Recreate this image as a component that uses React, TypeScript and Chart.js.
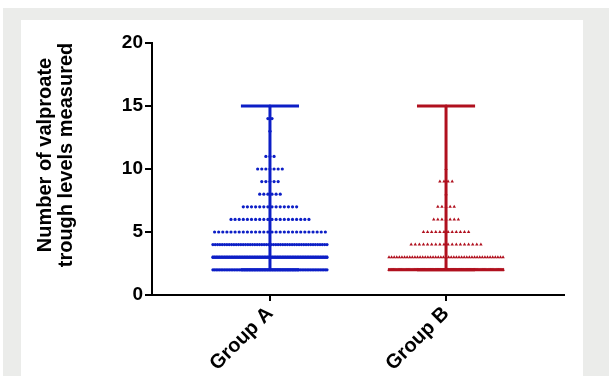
import React, { useEffect, useRef } from 'react';
import { Chart, registerables } from 'chart.js';

Chart.register(...registerables);

const categories = ['Group A', 'Group B'];
const levels = [2, 3, 4, 5, 6, 7, 8, 9, 10, 11, 12, 13, 14, 15];
const groupACounts = [70, 70, 50, 28, 20, 14, 6, 5, 7, 3, 0, 1, 2, 1];
const groupBCounts = [100, 45, 18, 12, 7, 5, 1, 4, 1, 0, 0, 0, 0, 1];
const yTicks = [0, 5, 10, 15, 20];
const yTitleLines = ['Number of valproate', 'trough levels measured'];
const colors = ['#0c1ec6', '#b0101e'];
const pointStyles = ['circle', 'triangle'];

const FONT = '"Liberation Sans", Arial, Helvetica, sans-serif';

function stats(counts: number[]) {
  const vals: number[] = [];
  levels.forEach((l, i) => {
    for (let k = 0; k < counts[i]; k++) vals.push(l);
  });
  vals.sort((a, b) => a - b);
  const n = vals.length;
  const med = n % 2 ? vals[(n - 1) / 2] : (vals[n / 2 - 1] + vals[n / 2]) / 2;
  return { min: vals[0], max: vals[n - 1], med };
}

function dotPoints(counts: number[], center: number) {
  const spacing = 0.0233;
  const maxW = 0.648;
  const pts: { x: number; y: number }[] = [];
  levels.forEach((l, i) => {
    const n = counts[i];
    if (n <= 0) return;
    const s = n > 1 ? Math.min(spacing, maxW / (n - 1)) : 0;
    for (let k = 0; k < n; k++) {
      pts.push({ x: center + (k - (n - 1) / 2) * s, y: l });
    }
  });
  return pts;
}

const yTitlePlugin = {
  id: 'yTitle',
  afterDraw(chart: any) {
    const { ctx } = chart;
    ctx.save();
    ctx.font = `bold 20px ${FONT}`;
    ctx.fillStyle = '#000';
    ctx.textAlign = 'center';
    ctx.textBaseline = 'middle';
    yTitleLines.forEach((t, i) => {
      ctx.save();
      ctx.translate(45 + i * 21, 155);
      ctx.rotate(-Math.PI / 2);
      ctx.fillText(t, 0, 0);
      ctx.restore();
    });
    ctx.restore();
  },
};

export default function App() {
  const ref = useRef<HTMLCanvasElement | null>(null);

  useEffect(() => {
    if (!ref.current) return;
    const groups = [groupACounts, groupBCounts];
    const datasets: any[] = [];
    const medHalf = 0.33;
    const capHalf = 0.165;
    groups.forEach((counts, g) => {
      const st = stats(counts);
      const line = (data: { x: number; y: number }[]) => ({
        type: 'scatter',
        data,
        showLine: true,
        borderColor: colors[g],
        borderWidth: 3,
        pointRadius: 0,
        order: 0,
      });
      datasets.push(line([{ x: g, y: st.min }, { x: g, y: st.max }]));
      datasets.push(line([{ x: g - capHalf, y: st.max }, { x: g + capHalf, y: st.max }]));
      datasets.push(line([{ x: g - capHalf, y: st.min }, { x: g + capHalf, y: st.min }]));
      datasets.push(line([{ x: g - medHalf, y: st.med }, { x: g + medHalf, y: st.med }]));
      datasets.push({
        type: 'scatter',
        data: dotPoints(counts, g),
        pointStyle: pointStyles[g],
        pointRadius: g === 0 ? 1.6 : 2,
        backgroundColor: colors[g],
        borderColor: colors[g],
        borderWidth: 0,
        order: 1,
      });
    });

    const chart = new Chart(ref.current, {
      type: 'scatter',
      data: { datasets },
      plugins: [yTitlePlugin],
      options: {
        animation: false,
        responsive: false,
        events: [],
        layout: { padding: { top: 43, right: 45, left: 0, bottom: 0 } },
        plugins: { legend: { display: false }, tooltip: { enabled: false } },
        scales: {
          x: {
            type: 'linear',
            min: -0.67,
            max: 1.67,
            afterBuildTicks: (s: any) => {
              s.ticks = categories.map((_, i) => ({ value: i }));
            },
            afterFit: (s: any) => {
              s.height = 81;
            },
            ticks: {
              callback: (v: any) => categories[v as number] ?? '',
              color: '#000',
              font: { family: FONT, size: 20, weight: 'bold' },
              minRotation: 45,
              maxRotation: 45,
              padding: 1,
            },
            grid: { drawOnChartArea: false, drawTicks: true, tickLength: 6, color: '#000', lineWidth: 2 },
            border: { display: true, color: '#000', width: 2 },
          },
          y: {
            min: 0,
            max: 20,
            afterBuildTicks: (s: any) => {
              s.ticks = yTicks.map((v) => ({ value: v }));
            },
            afterFit: (s: any) => {
              s.width = 152;
            },
            ticks: {
              color: '#000',
              font: { family: FONT, size: 19, weight: 'bold' },
              padding: 2,
            },
            grid: { drawOnChartArea: false, drawTicks: true, tickLength: 7, color: '#000', lineWidth: 2 },
            border: { display: true, color: '#000', width: 2 },
          },
        },
      },
    } as any);
    return () => chart.destroy();
  }, []);

  return (
    <div style={{ position: 'fixed', left: 0, top: 0, width: 609, height: 376, background: '#fff' }}>
      <div style={{ position: 'absolute', left: 3, top: 8, width: 606, height: 368, background: '#ebecea' }} />
      <div style={{ position: 'absolute', left: 21, top: 20, width: 562, height: 356, background: '#fff' }} />
      <canvas ref={ref} width={609} height={376} style={{ position: 'absolute', left: 0, top: 0 }} />
    </div>
  );
}
